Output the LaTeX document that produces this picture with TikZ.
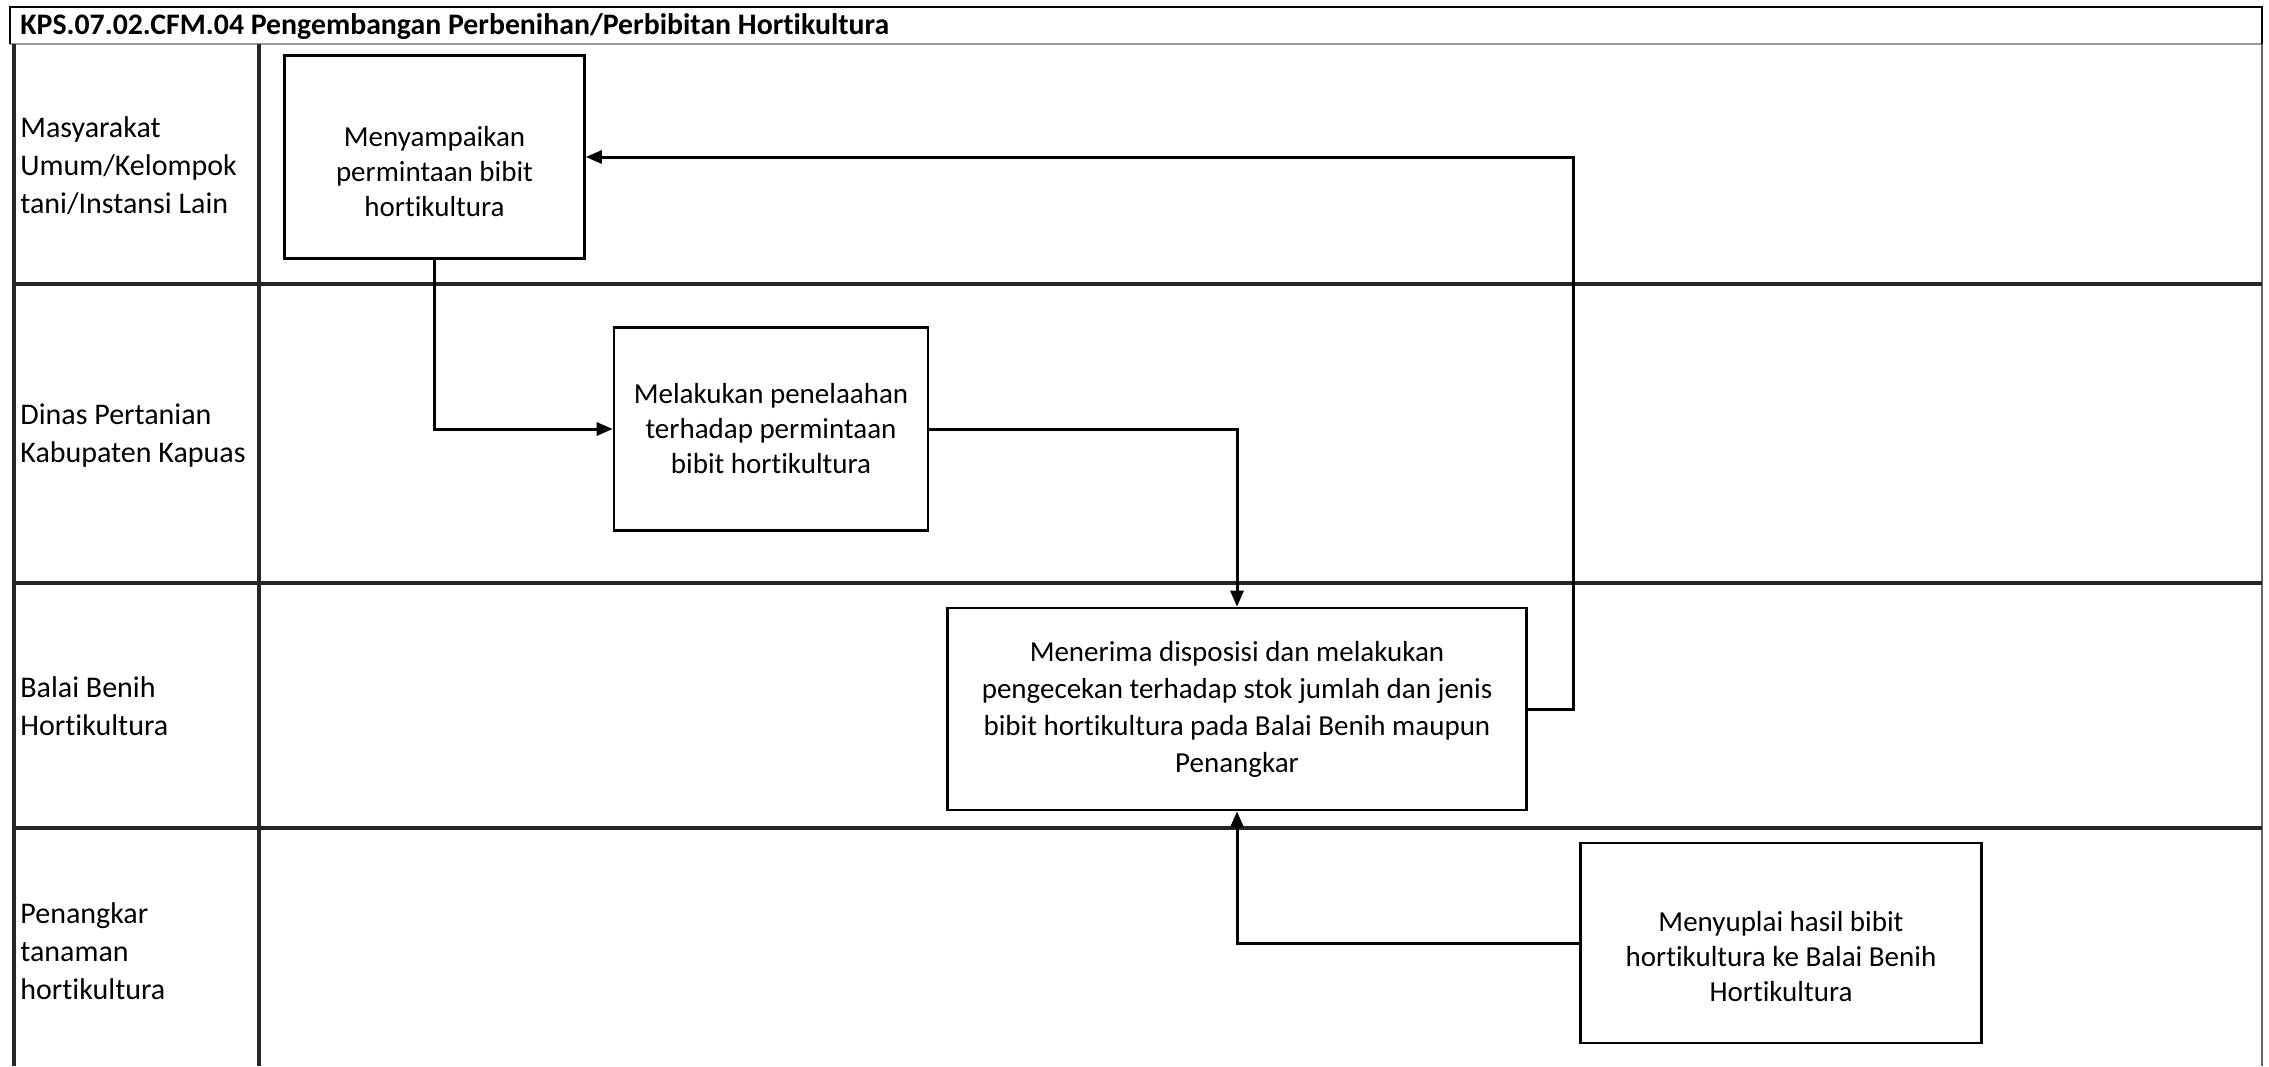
\documentclass[tikz,border=0pt]{standalone}
\usepackage{fontspec}
\setmainfont{Carlito}[Ligatures=NoCommon]
\usetikzlibrary{arrows.meta}
\begin{document}
\begin{tikzpicture}[x=0.5pt,y=-0.5pt,
  lanerule/.style={draw=black!85,line width=1.6pt},
  lanelabel/.style={anchor=west,align=left,inner sep=0pt,font={\fontsize{15}{19}\selectfont}},
  procbox/.style={draw=black,line width=1.3pt,fill=white,align=center,inner sep=0pt,font={\fontsize{14.5}{17.5}\selectfont}},
  conn/.style={draw=black,line width=1.5pt,-{Triangle[length=8pt,width=6.5pt]}},
  titletext/.style={anchor=west,inner sep=0pt,font={\fontsize{14.9}{17}\selectfont\bfseries}}
]
\useasboundingbox (0,0) rectangle (2269,1066);
\fill[white] (0,0) rectangle (2269,1066);
% title
\draw[black!40,line width=0.6pt] (10,44) -- (2262,44);
\draw[black,line width=1.4pt] (10,44) -- (10,7) -- (2262,7) -- (2262,44);
\node[titletext] (title) at (20,27) {KPS.07.02.CFM.04 Pengembangan Perbenihan/Perbibitan Hortikultura};
% frame
\draw[lanerule] (14,44) -- (14,1066);
\draw[black!60,line width=1.2pt] (2262,44) -- (2262,1066);
\draw[lanerule] (259,44) -- (259,1066);
\draw[lanerule] (14,284) -- (2262,284);
\draw[lanerule] (14,583) -- (2262,583);
\draw[lanerule] (14,828) -- (2262,828);
% lane labels
\node[lanelabel] (l1) at (20,166) {Masyarakat\\Umum/Kelompok\\tani/Instansi Lain};
\node[lanelabel] (l2) at (20,436) {Dinas Pertanian\\Kabupaten Kapuas};
\node[lanelabel] (l3) at (20,706) {Balai Benih\\Hortikultura};
\node[lanelabel] (l4) at (20,951) {Penangkar\\tanaman\\hortikultura};
% process boxes
\node[procbox,minimum width=150pt,minimum height=101.5pt] (b1) at (434.5,157)
  {\begin{tabular}{@{}c@{}}\rule{0pt}{30pt}Menyampaikan\\permintaan bibit\\hortikultura\end{tabular}};
\node[procbox,minimum width=157pt,minimum height=101.5pt] (b2) at (771,429)
  {Melakukan penelaahan\\terhadap permintaan\\bibit hortikultura};
\node[procbox,minimum width=289.5pt,minimum height=101pt,font={\fontsize{14.5}{18.5}\selectfont}] (b3) at (1237,709)
  {Menerima disposisi dan melakukan\\pengecekan terhadap stok jumlah dan jenis\\bibit hortikultura pada Balai Benih maupun\\Penangkar};
\node[procbox,minimum width=200.5pt,minimum height=100pt] (b4) at (1781,943)
  {\begin{tabular}{@{}c@{}}\rule{0pt}{29pt}Menyuplai hasil bibit\\hortikultura ke Balai Benih\\Hortikultura\end{tabular}};
% connectors
\coordinate (r1) at (1573,157);
\draw[conn] (b1.south) |- (b2.west);
\draw[conn] (b2.east) -| (b3.north);
\draw[conn] (b3.east) -| (r1) -- (b1.east);
\draw[conn] (b4.west) -| (b3.south);
\end{tikzpicture}
\end{document}
